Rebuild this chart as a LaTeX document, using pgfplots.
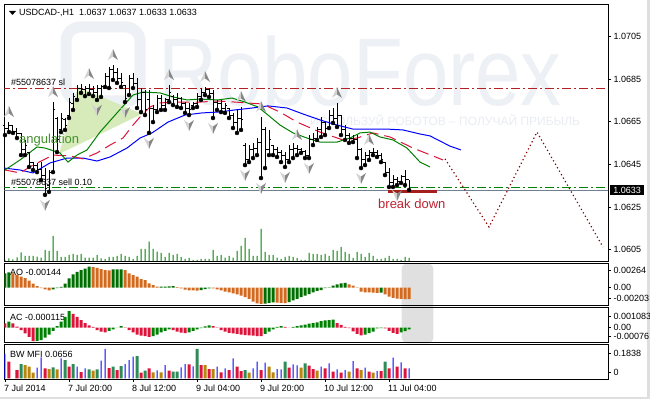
\documentclass[border=0pt]{standalone}
\usepackage{pgfplots}
\pgfplotsset{compat=1.18}
\usepackage{pgfplotstable}
\usepackage{fontspec}
\setmainfont{Liberation Sans}

\definecolor{aoG}{RGB}{0,110,0}
\definecolor{aoO}{RGB}{210,105,30}
\definecolor{acG}{RGB}{0,128,0}
\definecolor{acR}{RGB}{220,20,60}
\definecolor{mfG}{RGB}{46,139,87}
\definecolor{mfR}{RGB}{220,20,60}
\definecolor{mfY}{RGB}{184,134,11}
\definecolor{mfB}{RGB}{0,0,255}
\definecolor{volG}{RGB}{0,128,0}
\definecolor{jaw}{RGB}{0,0,255}
\definecolor{teeth}{RGB}{220,20,60}
\definecolor{lips}{RGB}{0,128,0}
\definecolor{slred}{RGB}{178,34,34}
\definecolor{selgreen}{RGB}{0,128,0}
\definecolor{pricegray}{RGB}{112,128,144}
\definecolor{zig}{RGB}{139,0,0}
\definecolor{brk}{RGB}{165,30,30}
\definecolor{angfill}{RGB}{214,234,186}
\definecolor{angtext}{RGB}{70,145,45}
\definecolor{brktext}{RGB}{190,35,50}
\definecolor{wm}{RGB}{237,240,244}
\definecolor{wm2}{RGB}{233,236,241}
\definecolor{fracL}{RGB}{210,210,210}
\definecolor{fracD}{RGB}{135,135,135}
\definecolor{scroll}{RGB}{224,224,224}

\pgfdeclareplotmark{otick}{\pgfsetlinewidth{1pt}\pgfpathmoveto{\pgfqpoint{-2pt}{0pt}}\pgfpathlineto{\pgfqpoint{0pt}{0pt}}\pgfusepathqstroke}
\pgfdeclareplotmark{ctick}{\pgfsetlinewidth{1pt}\pgfpathmoveto{\pgfqpoint{0pt}{0pt}}\pgfpathlineto{\pgfqpoint{2pt}{0pt}}\pgfusepathqstroke}
\pgfdeclareplotmark{fup}{%
 \pgfpathmoveto{\pgfqpoint{0pt}{16pt}}\pgfpathlineto{\pgfqpoint{-5pt}{5pt}}\pgfpathlineto{\pgfqpoint{0pt}{8.5pt}}\pgfpathclose
 \pgfsetfillcolor{fracL}\pgfusepathqfill
 \pgfpathmoveto{\pgfqpoint{0pt}{16pt}}\pgfpathlineto{\pgfqpoint{5pt}{5pt}}\pgfpathlineto{\pgfqpoint{0pt}{8.5pt}}\pgfpathclose
 \pgfsetfillcolor{fracD}\pgfusepathqfill}
\pgfdeclareplotmark{fdn}{%
 \pgfpathmoveto{\pgfqpoint{0pt}{-16pt}}\pgfpathlineto{\pgfqpoint{-5pt}{-5pt}}\pgfpathlineto{\pgfqpoint{0pt}{-8.5pt}}\pgfpathclose
 \pgfsetfillcolor{fracL}\pgfusepathqfill
 \pgfpathmoveto{\pgfqpoint{0pt}{-16pt}}\pgfpathlineto{\pgfqpoint{5pt}{-5pt}}\pgfpathlineto{\pgfqpoint{0pt}{-8.5pt}}\pgfpathclose
 \pgfsetfillcolor{fracD}\pgfusepathqfill}

% OHLC bars, USDCAD H1
\pgfplotstableread{
h o hi lo c
0 1.06635 1.06659 1.06588 1.06621
1 1.06621 1.06649 1.06602 1.06631
2 1.06631 1.06635 1.06598 1.06607
3 1.06607 1.06621 1.06574 1.06593
4 1.06593 1.06598 1.06494 1.06518
5 1.06518 1.06565 1.06494 1.06541
6 1.06504 1.06508 1.06438 1.06461
7 1.06461 1.06461 1.06424 1.06443
8 1.06443 1.06457 1.06414 1.06424
9 1.06424 1.06461 1.06377 1.06400
10 1.06400 1.06433 1.06307 1.06339
11 1.06349 1.06424 1.06321 1.06414
12 1.06414 1.06743 1.06414 1.06706
13 1.06668 1.06673 1.06508 1.06565
14 1.06612 1.06692 1.06602 1.06668
15 1.06659 1.06668 1.06612 1.06635
16 1.06678 1.06762 1.06668 1.06743
17 1.06734 1.06786 1.06706 1.06771
18 1.06762 1.06823 1.06753 1.06809
19 1.06809 1.06828 1.06786 1.06800
20 1.06800 1.06818 1.06771 1.06809
21 1.06809 1.06828 1.06781 1.06800
22 1.06800 1.06818 1.06771 1.06786
23 1.06790 1.06823 1.06753 1.06809
24 1.06809 1.06823 1.06767 1.06818
25 1.06818 1.06879 1.06814 1.06865
26 1.06865 1.06908 1.06809 1.06894
27 1.06894 1.06917 1.06847 1.06884
28 1.06884 1.06903 1.06833 1.06856
29 1.06856 1.06879 1.06814 1.06837
30 1.06823 1.06823 1.06743 1.06762
31 1.06776 1.06870 1.06776 1.06856
32 1.06856 1.06879 1.06809 1.06828
33 1.06828 1.06856 1.06715 1.06753
34 1.06753 1.06809 1.06696 1.06790
35 1.06790 1.06800 1.06682 1.06706
36 1.06753 1.06800 1.06598 1.06715
37 1.06715 1.06729 1.06649 1.06706
38 1.06706 1.06776 1.06696 1.06762
39 1.06762 1.06776 1.06706 1.06729
40 1.06729 1.06762 1.06706 1.06753
41 1.06753 1.06823 1.06743 1.06790
42 1.06771 1.06776 1.06729 1.06753
43 1.06753 1.06786 1.06720 1.06762
44 1.06762 1.06767 1.06715 1.06734
45 1.06734 1.06743 1.06692 1.06715
46 1.06715 1.06739 1.06682 1.06706
47 1.06725 1.06743 1.06715 1.06734
48 1.06734 1.06786 1.06720 1.06771
49 1.06771 1.06809 1.06753 1.06790
50 1.06790 1.06814 1.06776 1.06800
51 1.06800 1.06809 1.06767 1.06781
52 1.06781 1.06800 1.06668 1.06743
53 1.06743 1.06753 1.06706 1.06734
54 1.06734 1.06753 1.06696 1.06715
55 1.06715 1.06739 1.06692 1.06725
56 1.06715 1.06715 1.06668 1.06682
57 1.06682 1.06692 1.06621 1.06649
58 1.06649 1.06706 1.06598 1.06668
59 1.06668 1.06720 1.06612 1.06659
60 1.06541 1.06551 1.06447 1.06471
61 1.06471 1.06541 1.06461 1.06518
62 1.06518 1.06551 1.06480 1.06527
63 1.06527 1.06574 1.06494 1.06555
64 1.06555 1.06673 1.06386 1.06612
65 1.06612 1.06626 1.06433 1.06518
66 1.06518 1.06612 1.06494 1.06565
67 1.06541 1.06541 1.06494 1.06518
68 1.06518 1.06532 1.06485 1.06508
69 1.06508 1.06518 1.06461 1.06494
70 1.06494 1.06508 1.06438 1.06471
71 1.06471 1.06541 1.06461 1.06518
72 1.06518 1.06551 1.06480 1.06527
73 1.06527 1.06541 1.06494 1.06518
74 1.06518 1.06527 1.06504 1.06513
75 1.06513 1.06518 1.06480 1.06494
76 1.06494 1.06588 1.06480 1.06565
77 1.06565 1.06598 1.06541 1.06574
78 1.06574 1.06626 1.06565 1.06612
79 1.06612 1.06673 1.06579 1.06649
80 1.06649 1.06649 1.06588 1.06621
81 1.06621 1.06706 1.06621 1.06682
82 1.06682 1.06715 1.06645 1.06668
83 1.06668 1.06739 1.06626 1.06682
84 1.06682 1.06682 1.06588 1.06612
85 1.06612 1.06635 1.06565 1.06588
86 1.06588 1.06598 1.06551 1.06574
87 1.06574 1.06588 1.06555 1.06565
88 1.06565 1.06588 1.06480 1.06518
89 1.06518 1.06527 1.06433 1.06471
90 1.06471 1.06508 1.06447 1.06494
91 1.06494 1.06518 1.06471 1.06508
92 1.06508 1.06527 1.06494 1.06504
93 1.06504 1.06518 1.06485 1.06494
94 1.06494 1.06504 1.06461 1.06471
95 1.06461 1.06461 1.06400 1.06414
96 1.06414 1.06433 1.06344 1.06363
97 1.06363 1.06400 1.06344 1.06377
98 1.06377 1.06391 1.06353 1.06368
99 1.06368 1.06400 1.06363 1.06391
100 1.06391 1.06424 1.06353 1.06377
101 1.06377 1.06377 1.06330 1.06330
}\ohlc

% tick volumes (relative)
\pgfplotstableread{
h v
0 1
1 2.7
2 1.7
3 3.7
4 8.7
5 5
6 5
7 5
8 4.3
9 3.3
10 11
11 10
12 25
13 10
14 4
15 4
16 6
17 7
18 6
19 7
20 3.3
21 3.3
22 3.3
23 6
24 2.7
25 2
26 4
27 4
28 5
29 7
30 5
31 4
32 2
33 5
34 12
35 12
36 19.3
37 12
38 9.3
39 8
40 4
41 8
42 6
43 7
44 4
45 2
46 3
47 1
48 1
49 2
50 2
51 2
52 11
53 5
54 6
55 3.3
56 5
57 3.3
58 10
59 15
60 23
61 12
62 5
63 5
64 32
65 9
66 6
67 6
68 3.3
69 2
70 4
71 5
72 4
73 3
74 1
75 1
76 8
77 7
78 7
79 6
80 7
81 5
82 11
83 10
84 14
85 9
86 7
87 3
88 9
89 7
90 4
91 8
92 5
93 2
94 2
95 3
96 5
97 2
98 2
99 1
100 4
101 3
}\vol

% Awesome Oscillator (units of 0.0001)
\pgfplotstableread{
h v
0 17.9
1 19.2
12 -2.0
13 -0.5
14 1.0
15 5.0
16 11.7
17 16.7
18 20.0
19 22.0
20 24.0
21 26.4
27 22.9
28 23.0
29 23.1
39 1.4
40 1.5
41 1.7
42 2.0
49 -2.9
50 -1.7
51 -0.8
65 -20.0
66 -19.0
67 -18.5
71 -18.0
72 -16.0
73 -14.0
74 -12.0
75 -10.0
76 -8.0
77 -6.0
78 -4.0
79 -2.9
80 -0.5
81 0.5
82 2.5
83 4.2
84 5.4
85 6.2
94 -6.2
}\aoup
\pgfplotstableread{
h v
2 18.0
3 16.0
4 14.0
5 12.0
6 9.0
7 5.0
8 2.0
9 -0.5
10 -2.0
11 -3.5
22 25.8
23 25.0
24 23.3
25 22.0
26 21.8
30 22.0
31 18.0
32 15.8
33 13.8
34 10.8
35 9.6
36 5.4
37 3.3
38 1.3
43 0.8
44 -0.8
45 -2.5
46 -3.3
47 -3.5
48 -3.8
52 -1.0
53 -2.0
54 -3.3
55 -5.0
56 -5.8
57 -7.0
58 -8.3
59 -10.0
60 -12.0
61 -14.2
62 -17.5
63 -19.6
64 -20.3
68 -18.8
69 -19.0
70 -19.5
86 4.2
87 2.5
88 0.4
89 -5.0
90 -5.8
91 -5.9
92 -6.2
93 -6.5
95 -8.3
96 -11.3
97 -12.8
98 -13.8
99 -14.1
100 -14.3
101 -14.4
}\aodn

% Accelerator Oscillator (units of 0.0001)
\pgfplotstableread{
h v
1 3.9
8 -8.5
9 -8.0
10 -6.5
11 -4.5
12 -2.0
13 1.0
14 4.0
15 7.0
16 10.8
26 -2.0
27 -1.0
28 0.1
29 1.0
37 -5.5
38 -4.5
39 -3.0
40 -2.0
41 -1.0
46 -3.0
47 -2.0
48 -1.0
49 -0.2
50 0.8
51 1.5
65 -4.0
66 -2.5
67 -1.0
68 0.5
69 1.0
72 0.5
73 1.0
74 1.5
75 2.0
76 2.6
77 3.0
78 3.5
79 4.3
80 4.8
81 5.0
82 5.2
90 -4.5
91 -3.5
92 -2.5
93 -0.5
94 -0.3
99 -3.0
100 -2.2
101 -1.15
}\acup
\pgfplotstableread{
h v
0 2.8
2 2.8
3 0.7
4 -1.5
5 -3.7
6 -5.9
7 -8.7
17 9.0
18 7.0
19 5.0
20 3.0
21 1.5
22 0.5
23 -1.5
24 -2.6
25 -3.0
30 0.3
31 -1.5
32 -3.0
33 -4.5
34 -5.2
35 -5.5
36 -6.0
42 -1.5
43 -2.5
44 -3.2
45 -3.5
52 1.0
53 0.2
54 -1.5
55 -2.5
56 -3.3
57 -3.6
58 -4.0
59 -4.5
60 -4.8
61 -5.0
62 -5.2
63 -5.4
64 -5.5
70 0.5
71 0.1
83 3.0
84 1.8
85 0.6
86 -0.3
87 -2.3
88 -4.0
89 -5.0
95 -0.5
96 -2.0
97 -3.3
98 -4.0
}\acdn

% BW MFI (relative heights)
\pgfplotstableread{
h v
4 14.3
12 11
15 18.3
17 14.3
21 9
23 9
27 11.7
29 12.3
33 22.3
35 7.7
42 6.7
43 6.7
48 29.3
60 8.3
70 16.7
75 15
95 16.7
}\mfg
\pgfplotstableread{
h v
1 16.7
3 8.3
10 10
16 11.7
19 6.3
26 10.3
28 8.3
34 5.7
36 10
41 7.7
46 14
49 13.3
51 9.3
54 6
56 8.3
58 11.7
59 7.3
64 8.3
71 10.7
76 12.7
77 9.3
80 10
82 6.7
84 5.7
88 10
91 6.7
94 7.3
96 10
98 11.7
100 10
}\mfr
\pgfplotstableread{
h v
5 13.3
6 11.7
7 5.7
11 9.3
13 9
22 7.7
37 6
39 6
50 13.3
52 9.3
61 5.7
66 11.7
67 6
74 10.7
78 7.7
86 6.7
89 8.3
92 5.7
}\mfy
\pgfplotstableread{
h v
0 24.3
8 10.7
9 21
14 20
18 11.7
20 10
24 17.7
25 29.3
30 14.3
31 18.3
32 21.7
38 8
40 13.3
44 11
45 14.3
47 12
53 11.7
55 10
57 20
62 10
63 16.7
65 15.7
68 9.3
69 9
72 14
73 13
79 11.7
81 15
83 9
85 8.3
87 17.3
90 10.7
93 7.3
97 20.7
99 16
101 10
}\mfb

\pgfplotsset{
 panel/.style={scale only axis, width=603.5pt, xmin=-0.125, xmax=150.75,
   anchor=south west, axis line style={line width=1pt, black},
   xtick=\empty, ytick pos=right, yticklabel pos=right, tick align=outside,
   major tick length=3pt, tick style={black, line width=0.8pt},
   yticklabel style={font=\fontsize{9}{10}\selectfont, inner sep=0pt, xshift=2.5pt},
   /pgf/number format/assume math mode=true},
}

\begin{document}
\begin{tikzpicture}[x=1pt, y=1pt, font=\fontsize{9}{11}\selectfont]
\useasboundingbox (0,0) rectangle (650,399);
\fill[white] (0,0) rectangle (650,399);
\fill[gray!25] (647,0) rectangle (650,399);
\fill[gray!25] (0,0) rectangle (650,2);

% watermark
\draw[wm, line width=11pt, rounded corners=14pt] (66,298) rectangle (140,372);
\node[anchor=base west, inner sep=0pt, text=wm, xscale=0.85] at (158,293) {\fontsize{96}{96}\selectfont RoboForex};
\node[anchor=base west, inner sep=0pt, text=wm2] at (310,273) {\fontsize{12}{12}\selectfont ИСПОЛЬЗУЙ РОБОТОВ – ПОЛУЧАЙ ПРИБЫЛЬ};

% volumes in main window
\begin{axis}[panel, at={(4.5pt,137.5pt)}, height=256.5pt, ymin=-0.5, ymax=256, hide axis]
\addplot[ybar, bar width=1pt, bar shift=0pt, fill=volG, draw=none] table[x=h, y=v] {\vol};
\end{axis}

% main price window
\begin{axis}[panel, at={(4.5pt,137.5pt)}, height=256.5pt, ymin=1.05994, ymax=1.07199,
  ytick={1.0605,1.0625,1.0645,1.0665,1.0685,1.0705},
  yticklabels={1.0605,1.0625,1.0645,1.0665,1.0685,1.0705}]
% angulation triangle
\addplot[fill=angfill, draw=none] coordinates {(13.5,1.06499) (18.25,1.06814) (34.25,1.06687)} -- cycle;
% order lines
\addplot[slred, line width=1pt, dash pattern=on 9pt off 3pt on 2pt off 3pt] coordinates {(-1,1.06809) (152,1.06809)};
\addplot[pricegray, line width=1pt] coordinates {(-1,1.06328) (152,1.06328)};
\addplot[selgreen, line width=1pt, dash pattern=on 9pt off 3pt on 2pt off 3pt] coordinates {(-1,1.06342) (152,1.06342)};
% alligator
\addplot[jaw, line width=1pt] coordinates {(-0.25,1.06433) (3.75,1.06424) (7,1.06410) (11.25,1.06457) (15.5,1.06480) (19.5,1.06480) (23,1.06466) (26.25,1.06485) (30.5,1.06527) (33.75,1.06574) (36.75,1.06598) (40.75,1.06649) (45,1.06682) (49.25,1.06692) (53.25,1.06696) (57.5,1.06706) (61.75,1.06715) (65.75,1.06725) (70.5,1.06715) (74.5,1.06687) (78.75,1.06659) (83,1.06635) (87,1.06616) (95.5,1.06616) (99.5,1.06612) (103.75,1.06593) (106.25,1.06584) (108.75,1.06560) (111.25,1.06536) (114,1.06518)};
\addplot[teeth, line width=1pt, dash pattern=on 12pt off 6pt] coordinates {(0,1.06424) (3.75,1.06410) (7,1.06447) (12,1.06494) (16.25,1.06490) (19.5,1.06476) (23,1.06504) (26.25,1.06541) (29.5,1.06574) (32,1.06635) (33.75,1.06673) (36.25,1.06720) (38.75,1.06739) (43,1.06743) (48.75,1.06743) (53.25,1.06748) (57.5,1.06743) (64.25,1.06734) (68.75,1.06696) (73,1.06649) (78.75,1.06602) (84.5,1.06565) (88,1.06574) (92,1.06598) (96.25,1.06579) (102,1.06527) (109.5,1.06471)};
\addplot[lips, line width=1pt] coordinates {(0,1.06424) (3.75,1.06471) (8,1.06532) (10,1.06527) (13.75,1.06504) (15.75,1.06461) (18,1.06494) (20.5,1.06518) (23.75,1.06602) (28,1.06692) (32,1.06776) (34.5,1.06790) (38.75,1.06786) (42,1.06767) (45.5,1.06753) (48.75,1.06757) (53.25,1.06753) (56.75,1.06762) (60,1.06743) (63.25,1.06720) (65.75,1.06682) (68.75,1.06635) (72,1.06598) (75.5,1.06574) (78.75,1.06555) (83,1.06555) (86.25,1.06574) (88.75,1.06598) (91.25,1.06602) (93.75,1.06579) (97,1.06565) (100.5,1.06527) (103.75,1.06461) (106.25,1.06438)};
% forecast zigzag and break-down line
\addplot[zig, line width=1.2pt, dash pattern=on 1.2pt off 2.8pt] coordinates {(110,1.06476) (121,1.06156) (133,1.06602) (149.5,1.06062)};
\addplot[brk, line width=2.6pt] coordinates {(95.75,1.06324) (108,1.06324)};
% OHLC bars
\addplot[only marks, mark=none, black, error bars/.cd, y dir=plus, y explicit, error mark=none, error bar style={line width=1pt, black}] table[x=h, y=lo, y error expr=\thisrow{hi}-\thisrow{lo}] {\ohlc};
\addplot[only marks, mark=otick, black] table[x=h, y=o] {\ohlc};
\addplot[only marks, mark=ctick, black] table[x=h, y=c] {\ohlc};
% fractals
\addplot[only marks, mark=fup] coordinates {(1,1.06649) (12,1.06743) (21,1.06828) (27,1.06917) (41,1.06823) (50,1.06814) (59,1.06720) (64,1.06673) (73,1.06541) (83,1.06739) (91,1.06518)};
\addplot[only marks, mark=fdn] coordinates {(10,1.06307) (23,1.06753) (30,1.06743) (36,1.06598) (46,1.06682) (52,1.06668) (60,1.06447) (64,1.06386) (70,1.06438) (76,1.06480) (89,1.06433) (98,1.06353)};
\end{axis}

% texts of main window
\fill[black] (9,388) -- (16,388) -- (12.5,384) -- cycle;
\node[anchor=base west, inner sep=0pt] at (19,383) {USDCAD-,H1\ \ 1.0637 1.0637 1.0633 1.0633};
\node[anchor=base west, inner sep=0pt] at (11,313) {\#55078637 sl};
\node[anchor=base west, inner sep=0pt] at (11,213.5) {\#55078637 sell 0.10};
\node[anchor=base west, inner sep=0pt, text=angtext] at (19,255) {\fontsize{13}{13}\selectfont angulation};
\node[anchor=base west, inner sep=0pt, text=brktext] at (378,190) {\fontsize{13}{13}\selectfont break down};
\node[fill=black, text=white, inner sep=0pt, minimum width=34pt, minimum height=10pt, anchor=west] at (610,209) {1.0633};

% scroll shading
\fill[scroll, rounded corners=6pt] (401.7,55.7) rectangle (433.3,135.7);

% AO
\node[anchor=base west, inner sep=0pt] at (10,123.7) {AO -0.00144};
\begin{axis}[panel, at={(4.5pt,93pt)}, height=42.5pt, ymin=-23.0, ymax=30.4,
  ytick={22.3,0,-13}, yticklabels={0.00264,0.00,-0.00203}]
\addplot[ybar, bar width=3pt, bar shift=0pt, fill=aoG, draw=none] table[x=h, y=v] {\aoup};
\addplot[ybar, bar width=3pt, bar shift=0pt, fill=aoO, draw=none] table[x=h, y=v] {\aodn};
\end{axis}

% AC
\node[anchor=base west, inner sep=0pt] at (10,79) {AC -0.000115};
\begin{axis}[panel, at={(4.5pt,56.5pt)}, height=34.5pt, ymin=-9.6, ymax=12.8,
  ytick={7.6,0,-5.4}, yticklabels={0.001083,0.00,-0.00076}]
\addplot[ybar, bar width=3pt, bar shift=0pt, fill=acG, draw=none] table[x=h, y=v] {\acup};
\addplot[ybar, bar width=3pt, bar shift=0pt, fill=acR, draw=none] table[x=h, y=v] {\acdn};
\end{axis}

% BW MFI
\node[anchor=base west, inner sep=0pt] at (10,41.3) {BW MFI 0.0656};
\begin{axis}[panel, at={(4.5pt,20pt)}, height=34.5pt, ymin=-0.7, ymax=33.8,
  ytick={25.3,6.3}, yticklabels={0.1838,0},
  xtick={0,16,32,48,64,80,96}, xtick pos=bottom,
  xticklabels={7 Jul 2014,7 Jul 20:00,8 Jul 12:00,9 Jul 04:00,9 Jul 20:00,10 Jul 12:00,11 Jul 04:00},
  xticklabel style={font=\fontsize{9}{10}\selectfont, anchor=north west, inner sep=0pt, xshift=-1pt, yshift=-2.5pt}]
\addplot[ybar, bar width=3pt, bar shift=0pt, fill=mfG, draw=none] table[x=h, y=v] {\mfg};
\addplot[ybar, bar width=3pt, bar shift=0pt, fill=mfR, draw=none] table[x=h, y=v] {\mfr};
\addplot[ybar, bar width=3pt, bar shift=0pt, fill=mfY, draw=none] table[x=h, y=v] {\mfy};
\addplot[ybar, bar width=1pt, bar shift=0pt, fill=mfB, draw=none] table[x=h, y=v] {\mfb};
\end{axis}
\end{tikzpicture}
\end{document}
